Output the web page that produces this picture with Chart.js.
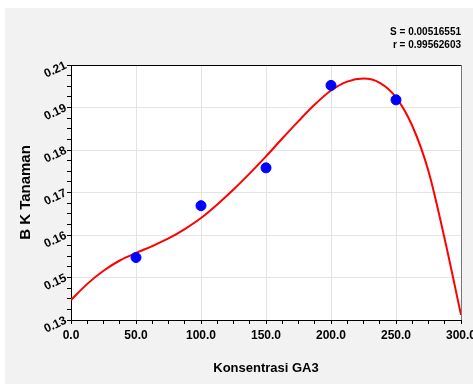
<!DOCTYPE html>
<html>
<head>
<meta charset="utf-8">
<script src="https://cdn.jsdelivr.net/npm/chart.js@4"></script>
<style>
  html, body { margin: 0; padding: 0; background: #fff; }
  #wrap { width: 473px; height: 385px; }
</style>
</head>
<body>
<div id="wrap"><canvas id="bkChart"></canvas></div>
<script>
// observed points (Konsentrasi GA3 vs BK Tanaman)
const concentrations = [50, 100, 150, 200, 250];
const bkValues = [0.1547, 0.1669, 0.1758, 0.1952, 0.1918];

// fitted curve, every 12.5 units
const curveX = [0, 12.5, 25, 37.5, 50, 62.5, 75, 87.5, 100, 112.5, 125, 137.5, 150,
  162.5, 175, 187.5, 200, 212.5, 225, 237.5, 250, 262.5, 275, 287.5, 300];
const curveY = [0.1447, 0.1485, 0.1516, 0.1540, 0.1558, 0.1574, 0.1592, 0.1614, 0.1640,
  0.1672, 0.1707, 0.1745, 0.1785, 0.1827, 0.1868, 0.1907, 0.1940, 0.1961, 0.1968,
  0.1958, 0.1924, 0.1857, 0.1750, 0.1590, 0.1412];

// tick labels as printed on the original axes
const xTickLabels = ['0.0', '50.0', '100.0', '150.0', '200.0', '250.0', '300.0'];
const yTickLabels = ['0.13', '0.15', '0.16', '0.17', '0.18', '0.19', '0.21'];

const fitStats = ['S = 0.00516551', 'r = 0.99562603'];

Chart.defaults.font.family = "'Liberation Sans', Arial, sans-serif";
Chart.defaults.color = '#000';

const panel = {
  id: 'panel',
  beforeDraw(chart) {
    const { ctx, chartArea: a } = chart;
    ctx.save();
    ctx.fillStyle = '#fff';
    ctx.fillRect(0, 0, chart.width, chart.height);
    ctx.fillStyle = '#f2f2f2';
    ctx.fillRect(5, 8, chart.width - 5, 376);
    ctx.fillStyle = '#fff';
    ctx.fillRect(a.left, a.top, a.right - a.left, a.bottom - a.top);
    ctx.restore();
  },
  afterDraw(chart) {
    const { ctx, chartArea: a } = chart;
    ctx.save();
    ctx.lineWidth = 1;
    ctx.strokeStyle = '#000';
    ctx.beginPath();
    ctx.moveTo(a.left, a.top + 0.5);
    ctx.lineTo(a.right, a.top + 0.5);
    ctx.stroke();
    ctx.strokeStyle = '#777';
    ctx.beginPath();
    ctx.moveTo(a.right + 0.5, a.top);
    ctx.lineTo(a.right + 0.5, a.bottom);
    ctx.stroke();
    ctx.restore();
  }
};

new Chart(document.getElementById('bkChart'), {
  type: 'scatter',
  data: {
    datasets: [
      {
        label: 'BK Tanaman',
        data: concentrations.map((x, i) => ({ x: x, y: bkValues[i] })),
        backgroundColor: '#0000ff',
        borderColor: '#0000ff',
        pointRadius: 5,
        pointHoverRadius: 5
      },
      {
        label: 'Fit',
        data: curveX.map((x, i) => ({ x: x, y: curveY[i] })),
        showLine: true,
        borderColor: '#ff0000',
        borderWidth: 2,
        pointRadius: 0,
        cubicInterpolationMode: 'monotone'
      }
    ]
  },
  options: {
    responsive: true,
    maintainAspectRatio: false,
    animation: false,
    layout: { padding: { left: 0, right: 12, top: 0, bottom: 0 } },
    plugins: {
      legend: { display: false },
      tooltip: { enabled: false },
      title: {
        display: true,
        text: fitStats,
        align: 'end',
        color: '#000',
        font: { size: 10, weight: 'bold', lineHeight: 1.25 },
        padding: { top: 26, bottom: 14 }
      }
    },
    scales: {
      x: {
        type: 'linear',
        min: 0,
        max: 300,
        afterFit(scale) {
          scale.height = 65;
          scale.paddingLeft = 0;
          scale.paddingRight = 0;
        },
        ticks: {
          stepSize: 12.5,
          autoSkip: false,
          maxRotation: 0,
          padding: 4,
          font: { size: 12, weight: 'bold' },
          callback: (v, i) => (i % 4 === 0 ? xTickLabels[i / 4] : '')
        },
        grid: {
          color: ctx => (ctx.index % 4 === 0 ? '#e4e4e4' : 'rgba(0,0,0,0)'),
          tickColor: '#000',
          tickLength: 4
        },
        border: { color: '#000', width: 1 },
        title: {
          display: true,
          text: 'Konsentrasi GA3',
          font: { size: 13, weight: 'bold' },
          padding: { top: 0, bottom: 9 }
        }
      },
      y: {
        type: 'linear',
        min: 0.14,
        max: 0.20,
        afterFit(scale) {
          scale.width = 71;
        },
        ticks: {
          stepSize: 0.0025,
          autoSkip: false,
          minRotation: 25,
          maxRotation: 25,
          padding: 1,
          font: { size: 12, weight: 'bold' },
          callback: (v, i) => (i % 4 === 0 ? yTickLabels[i / 4] : '')
        },
        grid: {
          color: ctx => (ctx.index % 4 === 0 ? '#e4e4e4' : 'rgba(0,0,0,0)'),
          tickColor: '#000',
          tickLength: 4
        },
        border: { color: '#000', width: 1 },
        title: {
          display: true,
          text: 'B K Tanaman',
          font: { size: 15, weight: 'bold' },
          padding: { top: 17, bottom: 0 }
        }
      }
    }
  },
  plugins: [panel]
});
</script>
</body>
</html>
